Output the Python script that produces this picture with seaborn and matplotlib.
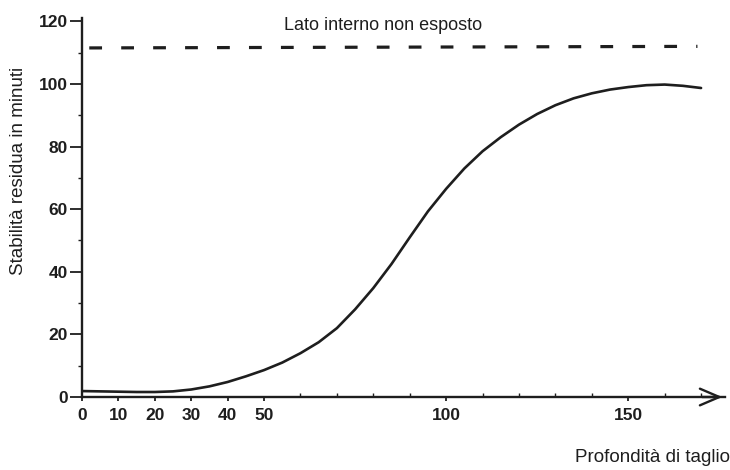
import numpy as np
import pandas as pd
import matplotlib
matplotlib.use("Agg")
import matplotlib.pyplot as plt
import seaborn as sns

# values
depth = [0, 5, 10, 15, 20, 25, 30, 35, 40, 45, 50, 55, 60, 65, 70, 75, 80, 85,
         90, 95, 100, 105, 110, 115, 120, 125, 130, 135, 140, 145, 150, 155,
         160, 165, 170]
stability = [1.9, 1.8, 1.7, 1.6, 1.6, 1.8, 2.4, 3.4, 4.8, 6.6, 8.6, 11, 14,
             17.5, 22, 28, 34.8, 42.5, 51, 59.3, 66.5, 73, 78.5, 83, 87, 90.4,
             93.2, 95.4, 97, 98.2, 99, 99.6, 99.8, 99.4, 98.7]
unexposed_x = [2, 169]
unexposed_y = [111.5, 112]

x_ticks = [0, 10, 20, 30, 40, 50, 100, 150]
y_ticks = [0, 20, 40, 60, 80, 100, 120]

sns.set_style("ticks")
plt.rcParams['font.family'] = ['Liberation Sans', 'DejaVu Sans']

ink = "#1e1e1e"
df = pd.DataFrame({"depth": depth, "stability": stability})
dash_df = pd.DataFrame({"depth": unexposed_x, "stability": unexposed_y})

fig = plt.figure(figsize=(7.3, 4.7), dpi=100)
ax = fig.add_axes([0.1123, 0.1553, 0.881, 0.806])

sns.lineplot(data=df, x="depth", y="stability", ax=ax, color=ink, lw=1.9)
sns.lineplot(data=dash_df, x="depth", y="stability", ax=ax, color=ink,
             lw=2.3, dashes=False, linestyle=(0, (4.0, 6.0)))

ax.set_xlim(0, 176.6)
ax.set_ylim(0, 121)
ax.set_xticks(x_ticks)
ax.set_yticks(y_ticks)
ax.set_xticks(np.arange(10, 171, 10), minor=True)
ax.set_yticks(np.arange(10, 120, 20), minor=True)
ax.tick_params(axis="both", which="major", direction="out", length=9,
               width=1.3, color=ink, labelsize=12.5, labelcolor=ink, pad=1)
ax.tick_params(axis="x", which="major", length=3, pad=5)
ax.tick_params(axis="x", which="minor", direction="in", length=3, width=1, color=ink)
ax.tick_params(axis="y", which="minor", direction="out", length=3, width=1, color=ink)
for lab in ax.get_xticklabels() + ax.get_yticklabels():
    lab.set_fontweight("bold")

sns.despine(ax=ax)
for s in ("left", "bottom"):
    ax.spines[s].set_linewidth(1.7)
    ax.spines[s].set_color(ink)

ax.annotate("", xy=(1.0, 0), xycoords="axes fraction", xytext=(0.96, 0),
            arrowprops=dict(arrowstyle="->,head_length=1.4,head_width=0.6",
                            lw=1.7, color=ink), annotation_clip=False)

ax.set_xlabel("")
ax.set_ylabel("")
ax.text(0.468, 0.982, "Lato interno non esposto", transform=ax.transAxes,
        ha="center", va="center", fontsize=13, color=ink)
fig.text(0.025, 0.636, "Stabilità residua in minuti", rotation=90,
         ha="center", va="center", fontsize=13.5, color=ink)
fig.text(0.788, 0.026, "Profondità di taglio", ha="left", va="center",
         fontsize=13.5, color=ink)

fig.savefig("out.png", dpi=100)
